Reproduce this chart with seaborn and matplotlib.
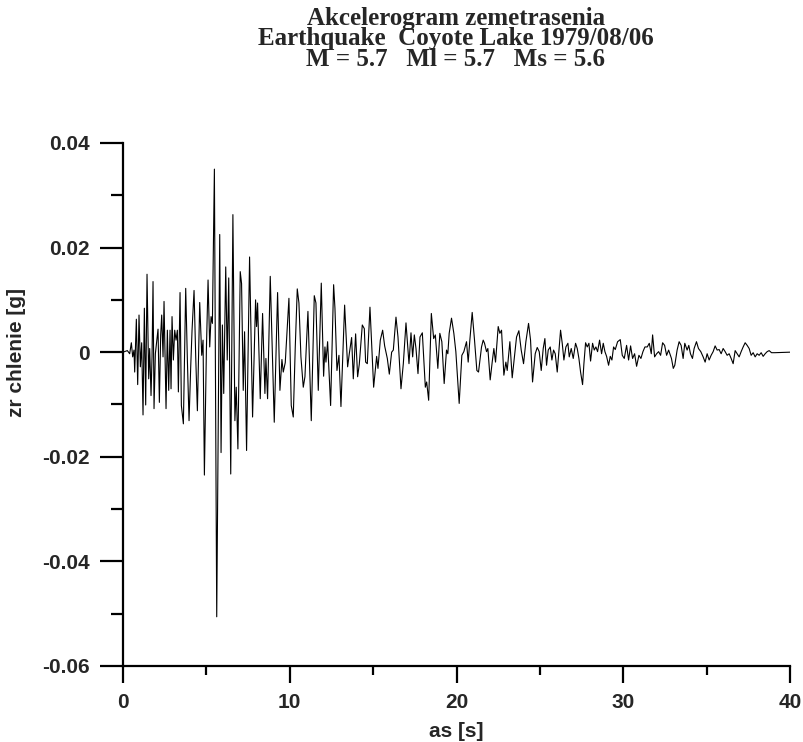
import numpy as np
import pandas as pd
import seaborn as sns
import matplotlib.pyplot as plt
from matplotlib.ticker import MultipleLocator

# Accelerogram (time in s, acceleration in g)
time_s = [
    0.00, 0.26, 0.40, 0.50, 0.58, 0.66, 0.70, 0.80, 0.88, 0.96, 1.04, 1.12, 1.20, 1.28, 1.36, 1.44,
    1.54, 1.60, 1.68, 1.74, 1.80, 1.86, 1.94, 2.02, 2.10, 2.18, 2.26, 2.32, 2.40, 2.46, 2.58, 2.66,
    2.74, 2.82, 2.88, 2.94, 3.02, 3.10, 3.18, 3.26, 3.32, 3.42, 3.50, 3.62, 3.76, 3.86, 3.96, 4.06,
    4.14, 4.26, 4.36, 4.46, 4.60, 4.72, 4.80, 4.88, 5.00, 5.10, 5.20, 5.28, 5.36, 5.48, 5.62,
    5.80, 5.88, 5.96, 6.04, 6.16, 6.25, 6.34, 6.46, 6.59, 6.71, 6.79, 6.89, 7.03, 7.11, 7.21, 7.29,
    7.41, 7.59, 7.77, 7.95, 8.01, 8.07, 8.23, 8.37, 8.51, 8.57, 8.67, 8.83, 9.07, 9.27, 9.41, 9.53,
    9.61, 9.73, 9.95, 10.09, 10.21, 10.33, 10.45, 10.55,
    10.67, 10.81, 10.91, 11.09, 11.29, 11.47, 11.57, 11.71, 11.89, 12.03, 12.11, 12.17, 12.27, 12.45,
    12.63, 12.71, 12.83, 12.95, 13.07, 13.29, 13.47, 13.57, 13.71, 13.81, 13.95, 14.07, 14.17, 14.35,
    14.47, 14.55, 14.65, 14.81, 15.03, 15.21, 15.29, 15.43, 15.57, 15.69, 15.85, 15.97,
    16.11, 16.21, 16.37, 16.49, 16.67, 16.81, 16.97, 17.15, 17.27, 17.37, 17.47, 17.57, 17.69, 17.81,
    17.95, 18.13, 18.21, 18.33, 18.49, 18.63, 18.73, 18.88, 19.00, 19.12, 19.26, 19.40, 19.48, 19.56,
    19.70, 19.84, 19.96, 20.16, 20.32, 20.44, 20.60, 20.70, 20.80, 20.94, 21.08, 21.22, 21.32,
    21.50, 21.60, 21.68, 21.80, 21.88, 22.02, 22.14, 22.24, 22.34, 22.50, 22.60, 22.70, 22.84, 22.96,
    23.04, 23.20, 23.34, 23.48, 23.60, 23.74, 23.88, 24.02, 24.16, 24.32, 24.44, 24.56, 24.72, 24.84,
    24.96, 25.08, 25.20, 25.30, 25.40, 25.50, 25.62, 25.72, 25.82, 25.92, 26.04, 26.24, 26.34, 26.44,
    26.56, 26.68, 26.76, 26.88, 27.00,
    27.14, 27.24, 27.34, 27.44, 27.56, 27.64, 27.74, 27.84, 27.94, 28.04, 28.16, 28.26, 28.36, 28.46,
    28.58, 28.70, 28.80, 28.90, 29.00, 29.12, 29.22, 29.32, 29.42, 29.52, 29.66, 29.82, 29.94, 30.06,
    30.20, 30.32, 30.44, 30.56, 30.68, 30.80, 30.94, 31.06, 31.18, 31.30, 31.44, 31.56, 31.68, 31.76,
    31.88, 32.00, 32.12, 32.24, 32.36, 32.48, 32.60, 32.72,
    32.89, 33.00, 33.09, 33.23, 33.35, 33.47, 33.59, 33.69, 33.83, 33.93, 34.03, 34.15, 34.25, 34.39,
    34.51, 34.65, 34.79, 34.91, 35.03, 35.15, 35.27, 35.39, 35.51, 35.63, 35.75, 35.87, 35.99, 36.11,
    36.23, 36.35, 36.47, 36.59, 36.71, 36.83, 36.95, 37.07, 37.19, 37.31, 37.43, 37.55, 37.67, 37.79,
    37.91, 38.03, 38.15, 38.27, 38.39, 38.51, 38.63, 38.75, 38.89, 39.09, 40.00,
]
accel_g = [
    0.0, 0.0003, -0.0003, 0.0018, -0.0009, 0.0004, -0.0038, 0.0063, -0.0062, 0.0071, -0.0028, 0.0018,
    -0.0120, 0.0084, -0.0101, 0.0149, -0.0051, 0.0007, -0.0083, -0.0009, 0.0135, -0.0108, -0.0003,
    0.0020, 0.0044, -0.0096, 0.0033, 0.0071, -0.0009, 0.0097, -0.0108, 0.0042, -0.0073, 0.0042,
    -0.0070, 0.0068, -0.0015, 0.0042, 0.0023, 0.0042, -0.0076, 0.0114, -0.0102, -0.0137, 0.0122,
    -0.0015, -0.0131, -0.0028, 0.0042, 0.0118, -0.0009, -0.0112, 0.0095, -0.0006, 0.0023, -0.0235,
    0.0004, 0.0138, 0.0010, 0.0068, 0.0055, 0.0350, -0.0506,
    0.0225, -0.0192, 0.0052, -0.0079, 0.0163, -0.0015, 0.0142, -0.0233, 0.0263, -0.0131, -0.0067,
    -0.0185, 0.0154, 0.0131, -0.0073, 0.0039, -0.0188, 0.0182, -0.0124, 0.0100, 0.0049, 0.0094,
    -0.0089, 0.0074, -0.0079, -0.0012, -0.0089, 0.0145, -0.0134, 0.0114, -0.0073, -0.0014, -0.0038,
    -0.0020, 0.0103, -0.0102, -0.0124, 0.0010, 0.0121, 0.0094,
    -0.0009, -0.0067, -0.0047, 0.0078, -0.0131, 0.0108, 0.0094, -0.0073, 0.0132, -0.0046, 0.0010,
    -0.0019, 0.0020, -0.0102, 0.0129, 0.0084, -0.0035, -0.0006, -0.0104, 0.0090, -0.0028, -0.0003,
    0.0028, -0.0051, 0.0035, -0.0047, -0.0023, 0.0052, 0.0045, -0.0019, -0.0022, 0.0086, -0.0067,
    -0.0008, -0.0031, 0.0023, 0.0042, 0.0012, -0.0012, -0.0042,
    0.0000, 0.0004, 0.0067, 0.0029, -0.0070, -0.0022, 0.0056, -0.0022, 0.0037, -0.0009, 0.0033,
    0.0007, -0.0041, 0.0029, 0.0037, -0.0067, -0.0057, -0.0092, 0.0074, 0.0026, 0.0033, -0.0031,
    0.0036, 0.0020, -0.0060, 0.0004, -0.0003, 0.0036, 0.0065, 0.0036, 0.0001, -0.0098, -0.0006,
    0.0001, 0.0020, -0.0019, 0.0023, 0.0076, 0.0023, -0.0035, -0.0038,
    0.0010, 0.0023, 0.0017, 0.0001, 0.0007, -0.0053, -0.0019, 0.0007, -0.0019, 0.0049, 0.0036,
    0.0042, -0.0044, -0.0019, -0.0035, 0.0020, -0.0049, -0.0006, 0.0029, 0.0041, 0.0004, -0.0022,
    0.0020, 0.0055, 0.0023, -0.0057, -0.0003, 0.0009, 0.0001, -0.0035, 0.0007, 0.0026, -0.0025,
    0.0004, 0.0010, -0.0015, 0.0004, -0.0003, -0.0038, 0.0042, 0.0017, -0.0015, 0.0010, 0.0017,
    -0.0009, 0.0007, -0.0012,
    0.0017, 0.0007, -0.0012, -0.0038, -0.0062, -0.0022, 0.0018, 0.0010, 0.0017, -0.0017, 0.0017,
    0.0004, 0.0010, 0.0001, 0.0023, -0.0003, 0.0017, 0.0001, -0.0008, -0.0025, -0.0008, -0.0015,
    0.0010, 0.0005, 0.0020, 0.0024, -0.0006, -0.0012, 0.0013, -0.0015, 0.0012, -0.0012, -0.0003,
    -0.0027, -0.0006, -0.0012, 0.0001, 0.0010, 0.0010, 0.0017, -0.0003, 0.0033, -0.0009, -0.0003,
    0.0001, -0.0006, 0.0018, 0.0013, -0.0006, 0.0004,
    -0.0012, -0.0031, -0.0025, 0.0004, 0.0020, 0.0013, -0.0012, 0.0017, 0.0004, 0.0013, -0.0003,
    -0.0012, 0.0007, 0.0020, 0.0007, 0.0001, -0.0009, -0.0019, -0.0003, -0.0015, -0.0006, 0.0001,
    0.0012, 0.0004, 0.0005, -0.0003, 0.0007, 0.0001, -0.0006, -0.0003, -0.0012, -0.0022, 0.0003,
    -0.0003, -0.0009, 0.0001, 0.0010, 0.0018, 0.0013, 0.0007, -0.0006, -0.0001, -0.0009, -0.0003,
    -0.0006, -0.0001, -0.0008, -0.0003, 0.0001, 0.0003, -0.0001, -0.0001, 0.0,
]

title_lines = ["Akcelerogram zemetrasenia",
               "Earthquake  Coyote Lake 1979/08/06",
               "M = 5.7   Ml = 5.7   Ms = 5.6"]
x_ticks = [0, 10, 20, 30, 40]
y_ticks = [-0.06, -0.04, -0.02, 0, 0.02, 0.04]
y_tick_labels = ["-0.06", "-0.04", "-0.02", "0", "0.02", "0.04"]

sns.set_style("ticks")
plt.rcParams["font.family"] = ["Liberation Sans", "DejaVu Sans"]

df = pd.DataFrame({"t": time_s, "a": accel_g})

fig = plt.figure(figsize=(8.04, 7.42), dpi=100)
ax = fig.add_axes([0.153, 0.1025, 0.8296, 0.7048])
sns.lineplot(data=df, x="t", y="a", color="black", linewidth=0.8,
             estimator=None, sort=False, ax=ax)

ax.set_xlim(0, 40)
ax.set_ylim(-0.06, 0.04)
ax.set_xticks(x_ticks)
ax.set_xticklabels([str(v) for v in x_ticks])
ax.set_yticks(y_ticks)
ax.set_yticklabels(y_tick_labels)
ax.xaxis.set_minor_locator(MultipleLocator(5))
ax.yaxis.set_minor_locator(MultipleLocator(0.01))

# the reference is stretched sideways, so y ticks are longer than x ticks
ax.tick_params(axis="x", which="major", direction="out", length=12.5, width=1.6,
               color="black", labelsize=15, pad=7)
ax.tick_params(axis="x", which="minor", direction="out", length=6.5, width=1.6, color="black")
ax.tick_params(axis="y", which="major", direction="out", length=16.5, width=1.6,
               color="black", labelsize=15, pad=7.5)
ax.tick_params(axis="y", which="minor", direction="out", length=8.5, width=1.6, color="black")
for lab in ax.get_xticklabels() + ax.get_yticklabels():
    lab.set_fontweight("bold")

sns.despine(ax=ax)
for side in ["left", "bottom"]:
    ax.spines[side].set_linewidth(1.6)
    ax.spines[side].set_color("black")

ax.set_xlabel("as [s]", fontsize=15, fontweight="bold")
ax.set_ylabel("zr chlenie [g]", fontsize=15, fontweight="bold")
ax.xaxis.set_label_coords(0.5, -0.108)
ax.yaxis.set_label_coords(-0.145, 0.60)

fig.text(456 / 804, 1 - 39 / 742, "\n".join(title_lines), ha="center", va="center",
         multialignment="center", linespacing=0.87,
         fontsize=18, fontweight="bold", family=["Liberation Serif", "DejaVu Serif"])

fig.savefig("out.png", dpi=100)
